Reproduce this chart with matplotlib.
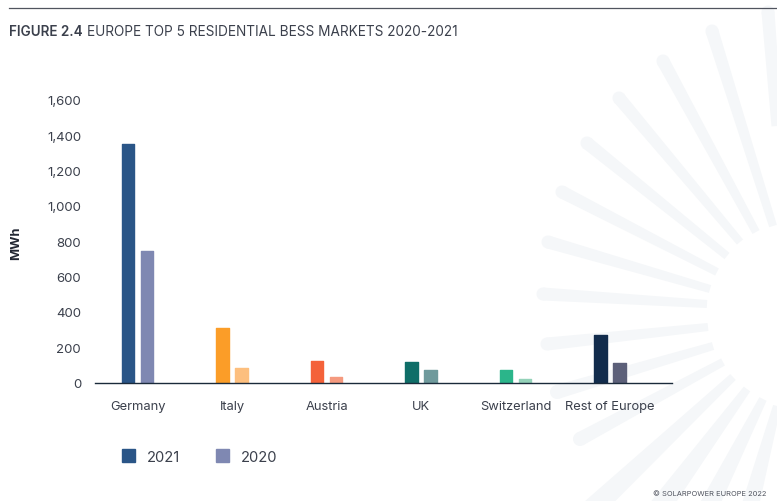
#!/usr/bin/env python

"""
Europe top 5 residential BESS markets, bar chart with the sunburst backdrop.
"""

import matplotlib
matplotlib.use('Agg')
import matplotlib.pyplot as plt
import numpy as np
from matplotlib.patches import Circle, Patch, Polygon

plt.rcParams['font.family'] = ['Inter', 'DejaVu Sans']

CATEGORIES = ['Germany', 'Italy', 'Austria', 'UK', 'Switzerland', 'Rest of Europe']
VALUES_2021 = [1350, 311, 121, 116, 70, 271]
VALUES_2020 = [744, 84, 31, 70, 17, 110]
COLORS_2021 = ['#2a5587', '#fb9d28', '#f4623a', '#0f6e68', '#2bb58a', '#122c4c']
COLORS_2020 = ['#7f88b2', '#fdbf7e', '#f59a7f', '#6f9a9c', '#94d2b9', '#5c6079']
YTICKS = [0, 200, 400, 600, 800, 1000, 1200, 1400, 1600]

# Backdrop rays in pixels: tip x, tip y, inner x, inner y, tip width, inner width
RAYS = [
    (768, 13, 777, 127, 13, 11),
    (712, 32, 773, 227, 13, 8),
    (663, 62, 756, 233, 13, 8),
    (619, 99, 740, 243, 13, 8),
    (587, 144, 727, 257, 13, 8),
    (562, 193, 717, 273, 13, 8),
    (548, 243, 710, 290, 13, 8),
    (543, 295, 707, 305, 13, 8),
    (547, 345, 708, 328, 13, 8),
    (557, 393, 713, 347, 14, 8),
    (580, 440, 723, 363, 14, 8),
    (587, 515, 733, 378, 22, 8),
    (655, 515, 747, 390, 22, 8),
    (705, 515, 763, 400, 20, 8),
    (748, 515, 777, 407, 18, 8),
]
RAY_COLOR = '#f5f7f9'
TEXT_COLOR = '#3b404c'


def draw_rays(fig):
    bg = fig.add_axes([0, 0, 1, 1], zorder=-1)
    bg.set_xlim(0, 777)
    bg.set_ylim(502, 0)
    bg.axis('off')
    for x0, y0, x1, y1, w0, w1 in RAYS:
        d = np.array([x1 - x0, y1 - y0], dtype=float)
        n = np.array([-d[1], d[0]]) / np.hypot(*d)
        p0, p1 = np.array([x0, y0]), np.array([x1, y1])
        pts = [p0 + n * w0 / 2, p1 + n * w1 / 2, p1 - n * w1 / 2, p0 - n * w0 / 2]
        bg.add_patch(Polygon(pts, closed=True, fc=RAY_COLOR, ec='none'))
        bg.add_patch(Circle((x0, y0), w0 / 2, fc=RAY_COLOR, ec='none'))
    # Rule above the title
    bg.plot([9, 777], [8.5, 8.5], color='#50545f', lw=0.9)


def main():
    fig = plt.figure(figsize=(7.77, 5.02), dpi=100, facecolor='w')
    draw_rays(fig)

    # Axes box: x 95-672 px, y 101-383.5 px
    ax = fig.add_axes([95 / 777, 1 - 383.5 / 502, 577 / 777, 282.5 / 502])
    ax.patch.set_alpha(0)

    x = np.arange(len(CATEGORIES))
    kw = dict(width=0.13, linewidth=1.0, joinstyle='round', clip_on=True, zorder=2)
    ax.bar(x - 0.1, VALUES_2021, color=COLORS_2021, edgecolor=COLORS_2021, **kw)
    ax.bar(x + 0.1, VALUES_2020, color=COLORS_2020, edgecolor=COLORS_2020, **kw)

    ax.set_xlim(-0.45, 5.656)
    ax.set_ylim(0, 1600)
    ax.set_xticks(x)
    ax.set_xticklabels(CATEGORIES)
    ax.set_yticks(YTICKS)
    ax.set_yticklabels([f'{v:,}' for v in YTICKS])
    ax.tick_params(axis='x', length=0, pad=12.5, labelsize=9.3, labelcolor=TEXT_COLOR)
    ax.tick_params(axis='y', length=0, pad=10, labelsize=9.5, labelcolor=TEXT_COLOR)
    for side in ['top', 'right', 'left']:
        ax.spines[side].set_visible(False)
    ax.spines['bottom'].set_color('#1a2a3a')
    ax.spines['bottom'].set_linewidth(1.0)
    ax.spines['bottom'].set_zorder(3)

    fig.text(16 / 777, 1 - 243 / 502, 'MWh', rotation=90, ha='center', va='center',
             fontsize=9.3, fontweight='bold', color='#222733')
    fig.text(9 / 777, 1 - 32.5 / 502, 'FIGURE 2.4', ha='left', va='center',
             fontsize=9.7, fontweight='semibold', color=TEXT_COLOR)
    fig.text(87 / 777, 1 - 32.5 / 502, 'EUROPE TOP 5 RESIDENTIAL BESS MARKETS 2020-2021',
             ha='left', va='center', fontsize=9.8, color=TEXT_COLOR)
    fig.text(766 / 777, 1 - 494 / 502, '© SOLARPOWER EUROPE 2022', ha='right', va='center',
             fontsize=5.4, color='#50545f')

    handles = [Patch(fc=COLORS_2021[0], ec=COLORS_2021[0], lw=1, joinstyle='round', label='2021'),
               Patch(fc=COLORS_2020[0], ec=COLORS_2020[0], lw=1, joinstyle='round', label='2020')]
    fig.legend(handles=handles, ncol=2, frameon=False, fontsize=10.6, labelcolor=TEXT_COLOR,
               loc='center left', bbox_to_anchor=(121.5 / 777, 1 - 457.5 / 502),
               borderaxespad=0, borderpad=0, handlelength=0.9, handleheight=0.9,
               handletextpad=0.8, columnspacing=2.45)

    fig.savefig('out.png', dpi=100)


if __name__ == "__main__":
    main()
